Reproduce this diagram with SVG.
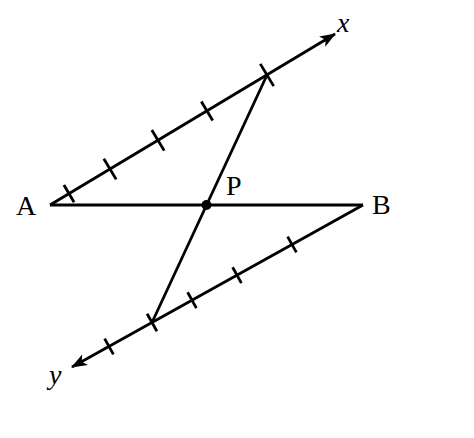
<svg xmlns="http://www.w3.org/2000/svg" width="474" height="438" viewBox="0 0 474 438">
<style>
.ln{stroke:#000;stroke-width:2.8;fill:none;stroke-linecap:butt}
.tk{stroke:#000;stroke-width:2.8;fill:none}
.lb{font-family:"Liberation Serif",serif;font-size:28px;fill:#000}
.it{font-style:italic}
</style>
<defs>
<marker id="arr" viewBox="0 0 16 12" refX="15" refY="6" markerWidth="16" markerHeight="12" markerUnits="userSpaceOnUse" orient="auto">
<path d="M0,0 L16,6 L0,12 L4,6 Z" fill="#000"/>
</marker>
</defs>
<rect width="474" height="438" fill="#fff"/>
<g id="connectors">
<line class="ln" x1="50" y1="205" x2="363" y2="205"/>
<line class="ln" x1="50" y1="205" x2="335" y2="34" marker-end="url(#arr)"/>
<line class="ln" x1="363" y1="205" x2="72" y2="367" marker-end="url(#arr)"/>
<line class="ln" x1="152" y1="322.5" x2="267" y2="75"/>
<g id="ticks-x">
<line class="tk" x1="63.9" y1="185" x2="74.1" y2="202.2"/>
<line class="tk" x1="103.8" y1="158.8" x2="116.2" y2="179.4"/>
<line class="tk" x1="151.8" y1="130" x2="164.2" y2="150.6"/>
<line class="tk" x1="201.3" y1="101.6" x2="212.7" y2="120.4"/>
<line class="tk" x1="260.3" y1="63.9" x2="273.7" y2="86.1"/>
</g>
<g id="ticks-y">
<line class="tk" x1="287.6" y1="236.6" x2="296.4" y2="252.4"/>
<line class="tk" x1="232.6" y1="267.3" x2="241.4" y2="283.1"/>
<line class="tk" x1="187.6" y1="292.3" x2="196.4" y2="308.1"/>
<line class="tk" x1="147.1" y1="313.8" x2="156.9" y2="331.2"/>
<line class="tk" x1="104.6" y1="338.6" x2="113.4" y2="354.4"/>
</g>
</g>
<g id="A"><text class="lb" x="16" y="215">A</text></g>
<g id="B"><text class="lb" x="372" y="214">B</text></g>
<g id="P"><circle cx="206.5" cy="205" r="5" fill="#000"/><text class="lb" x="226" y="195">P</text></g>
<g id="x"><text class="lb it" x="337" y="32">x</text></g>
<g id="y"><text class="lb it" x="49" y="384">y</text></g>
</svg>
